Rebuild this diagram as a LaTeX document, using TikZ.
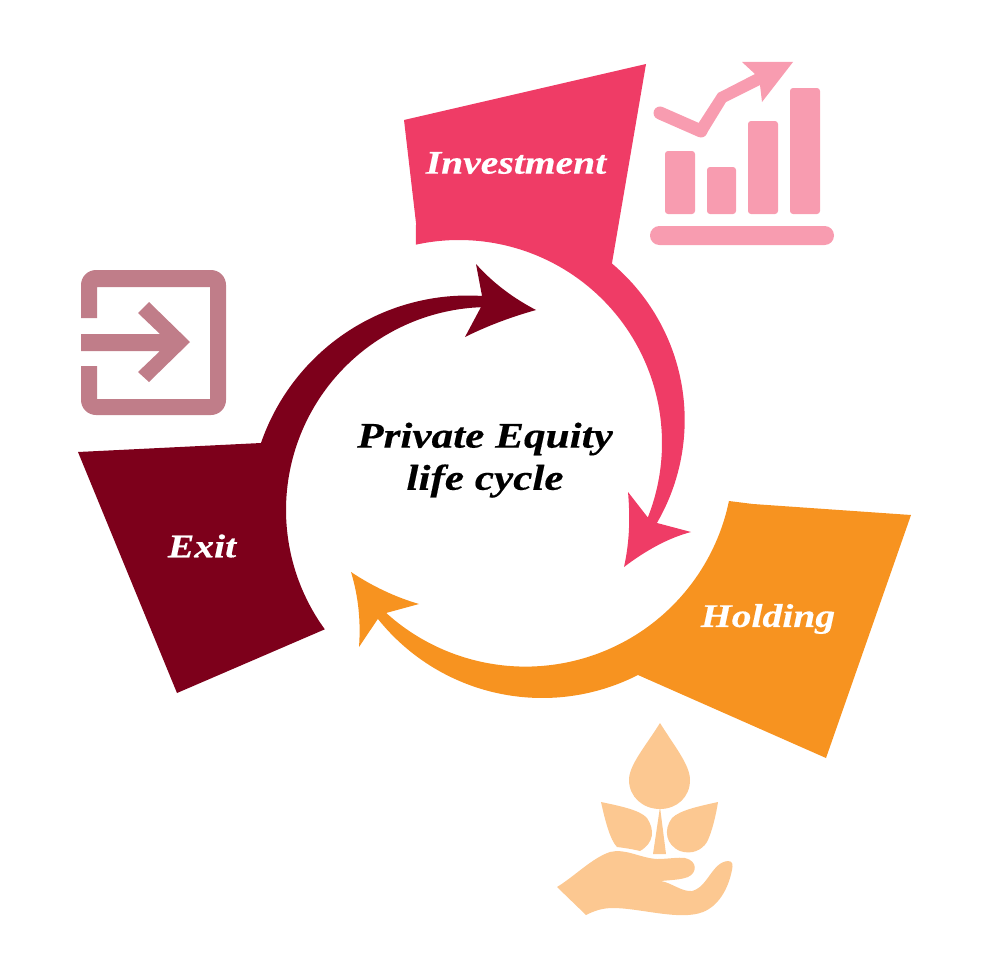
\documentclass[tikz,border=0pt]{standalone}
\usepackage{fontspec}
\newfontfamily\labelfont[FakeStretch=1.2,FakeBold=0.4]{Liberation Serif}
\definecolor{pinkmain}{HTML}{EF3C66}
\definecolor{pinklight}{HTML}{F89CB0}
\definecolor{orangemain}{HTML}{F79320}
\definecolor{orangelight}{HTML}{FCC891}
\definecolor{maroonmain}{HTML}{7D001B}
\definecolor{maroonlight}{HTML}{C07D89}
\tikzset{
  stagelabel/.style={text=white,font=\labelfont\bfseries\itshape\fontsize{33}{38}\selectfont,inner sep=0pt},
  titlelabel/.style={text=black,font=\labelfont\bfseries\itshape\fontsize{36}{42}\selectfont,inner sep=0pt},
  barshape/.style={fill=pinklight,rounded corners=3pt},
  arcplot/.style={smooth,samples=40,variable=\t},
}
\begin{document}
\begin{tikzpicture}[x=1pt,y=-1pt]
\useasboundingbox (0,0) rectangle (987,966);
% Investment
\fill[pinkmain] (404,120) -- (646,64) -- (612,263)
  -- plot[arcplot,domain=-50:30.2] ({480+204.7*cos(\t)},{420+204.7*sin(\t)})
  -- (691,532) .. controls (668,538) and (645,551) .. (624,567)
  .. controls (630,540) and (630,515) .. (628,492) -- (649,519)
  -- plot[arcplot,domain=21.8:-102.25] ({459+203*cos(\t)},{443+203*sin(\t)})
  -- (416,223) -- cycle;
% Holding
\fill[orangemain] (729,501) -- (753,504) -- (911,515) -- (826,758) -- (638,675)
  -- plot[arcplot,domain=62.9:141.4] ({542.3+210.4*cos(\t)},{487.6+210.4*sin(\t)})
  -- (359,647) .. controls (361,620) and (358,595) .. (351,572)
  .. controls (372,586) and (395,597) .. (419,604) -- (386,613)
  -- plot[arcplot,domain=132.1:11.7] ({525.5+207.8*cos(\t)},{458.8+207.8*sin(\t)})
  -- cycle;
% Exit
\fill[maroonmain] (78,452) -- (261,443)
  -- plot[arcplot,domain=-161:-86.3] ({467.9+218.9*cos(\t)},{514.4+218.9*sin(\t)})
  -- (476,264) .. controls (493,283) and (513,298) .. (536,310)
  .. controls (511,317) and (487,326) .. (465,337) -- (481,307)
  -- plot[arcplot,domain=268:144] ({489+203*cos(\t)},{510+203*sin(\t)})
  -- (177,693) -- cycle;
% Chart icon
\fill[barshape] (665,151) rectangle (695,214);
\fill[barshape] (707,167) rectangle (736,214);
\fill[barshape] (748,121) rectangle (778,214);
\fill[barshape] (790,88) rectangle (820,214);
\fill[pinklight,rounded corners=9.4pt] (650,226) rectangle (834,245);
\draw[pinklight,line width=13pt,line cap=round,line join=round] (660,113) -- (701,131);
\fill[pinklight] (718,93) -- (755,74) -- (742,62) -- (793,62) -- (762,102) -- (760,85) -- (726,102) -- (707,133) -- (696,127) -- cycle;
% Exit icon
\fill[maroonlight] (97,318) -- (97,287) -- (210,287) -- (210,399) -- (97,399) -- (97,366) -- (81,366)
  [rounded corners=15pt] -- (81,415) -- (226,415) -- (226,270) -- (81,270) [sharp corners] -- (81,318) -- cycle;
\fill[maroonlight] (81,334) -- (160,334) -- (138,313) -- (149,302) -- (190,342) -- (149,382) -- (138,372) -- (160,351) -- (81,351) -- cycle;
% Plant icon
\fill[orangelight] (660,723) .. controls (675,747) and (690,765) .. (690,780)
  .. controls (690,797) and (677,809) .. (660,809)
  .. controls (643,809) and (629,797) .. (629,780)
  .. controls (629,765) and (645,747) .. (660,723) -- cycle;
\fill[orangelight] (601,802) .. controls (620,806) and (640,810) .. (647,818)
  .. controls (655,830) and (654,843) .. (640,851)
  .. controls (632,849) and (625,848) .. (617,847)
  .. controls (610,840) and (605,820) .. (601,802) -- cycle;
\fill[orangelight] (718,802) .. controls (700,806) and (680,810) .. (672,818)
  .. controls (663,830) and (666,845) .. (680,851)
  .. controls (692,855) and (702,850) .. (707,842)
  .. controls (712,832) and (716,815) .. (718,802) -- cycle;
\fill[orangelight] (660,807) -- (666,854) -- (653,854) -- cycle;
\fill[orangelight] (557,887) .. controls (575,876) and (592,858) .. (610,852)
  .. controls (625,848) and (640,858) .. (657,859)
  .. controls (668,859) and (678,857) .. (685,858)
  .. controls (698,861) and (697,873) .. (688,877)
  .. controls (680,880) and (670,880) .. (661,881)
  .. controls (672,883) and (682,892) .. (692,891)
  .. controls (708,887) and (712,862) .. (728,861)
  .. controls (733,861) and (733,865) .. (732,870)
  .. controls (728,890) and (718,906) .. (703,912)
  .. controls (680,921) and (640,908) .. (613,908)
  .. controls (602,908) and (594,911) .. (586,915) -- cycle;
% Labels
\node[stagelabel] (inv) at (516,163) {Investment};
\node[stagelabel] (hold) at (768,619) {Holding};
\node[stagelabel] (ex) at (202,546) {Exit};
\node[titlelabel] (t1) at (485,439) {Private Equity};
\node[titlelabel] (t2) at (485,481) {life cycle};
\end{tikzpicture}
\end{document}
